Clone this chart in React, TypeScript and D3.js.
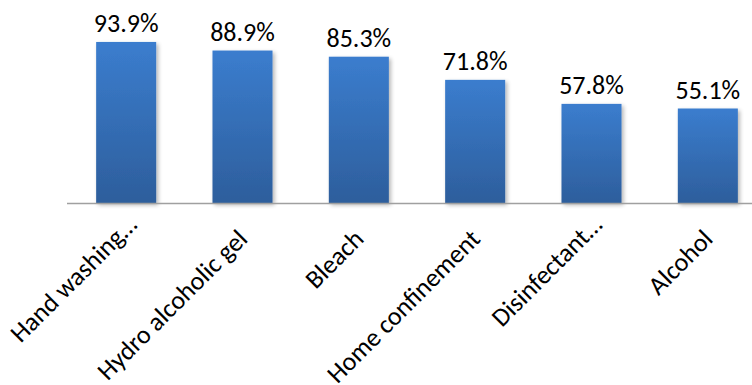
import React from "react";
import * as d3 from "d3";

const categories = [
  "Hand washing…",
  "Hydro alcoholic gel",
  "Bleach",
  "Home confinement",
  "Disinfectant…",
  "Alcohol",
];
const values = [93.9, 88.9, 85.3, 71.8, 57.8, 55.1];
const valueLabels = ["93.9%", "88.9%", "85.3%", "71.8%", "57.8%", "55.1%"];

const W = 752;
const H = 385;

export default function App() {
  const baseline = 203;
  const x = d3
    .scaleBand<string>()
    .domain(categories)
    .range([68, 766])
    .paddingInner(0.484)
    .paddingOuter(0.242);
  const y = d3.scaleLinear().domain([0, 100]).range([baseline, baseline - 171.5]);
  const font = "Carlito, Calibri, 'Open Sans', sans-serif";

  return (
    <svg
      width={W}
      height={H}
      style={{ position: "absolute", left: 0, top: 0, background: "#fff" }}
    >
      <defs>
        <linearGradient id="barGrad" x1="0" y1="0" x2="0" y2="1">
          <stop offset="0%" stopColor="#3B7DCE" />
          <stop offset="100%" stopColor="#2D5E9C" />
        </linearGradient>
        <filter id="shadow" x="-20%" y="-20%" width="150%" height="150%">
          <feGaussianBlur in="SourceAlpha" stdDeviation="2" />
          <feOffset dx="2" dy="2" result="b" />
          <feComponentTransfer>
            <feFuncA type="linear" slope="0.3" />
          </feComponentTransfer>
          <feMerge>
            <feMergeNode />
            <feMergeNode in="SourceGraphic" />
          </feMerge>
        </filter>
      </defs>
      {categories.map((c, i) => (
        <rect
          key={c}
          x={x(c)}
          y={y(values[i])}
          width={x.bandwidth()}
          height={baseline - y(values[i])}
          fill="url(#barGrad)"
          filter="url(#shadow)"
        />
      ))}
      <line x1={67} x2={W} y1={baseline + 0.5} y2={baseline + 0.5} stroke="#A0A0A0" strokeWidth={1.5} />
      {categories.map((c, i) => (
        <text
          key={"v" + c}
          x={(x(c) as number) + x.bandwidth() / 2}
          y={y(values[i]) - 10}
          textAnchor="middle"
          fontFamily={font}
          fontSize={26}
          fill="#000"
        >
          {valueLabels[i]}
        </text>
      ))}
      {categories.map((c) => {
        const truncated = c.endsWith("…");
        const cx = (x(c) as number) + x.bandwidth() / 2 + (truncated ? 10 : 0);
        const cy = baseline + 31;
        return (
          <text
            key={"c" + c}
            transform={`translate(${cx},${cy}) rotate(-45)`}
            textAnchor="end"
            dx={truncated ? 7 : 0}
            dy={truncated ? "-0.15em" : "0.35em"}
            fontFamily={font}
            fontSize={26}
            fill="#000"
          >
            {c}
          </text>
        );
      })}
    </svg>
  );
}
